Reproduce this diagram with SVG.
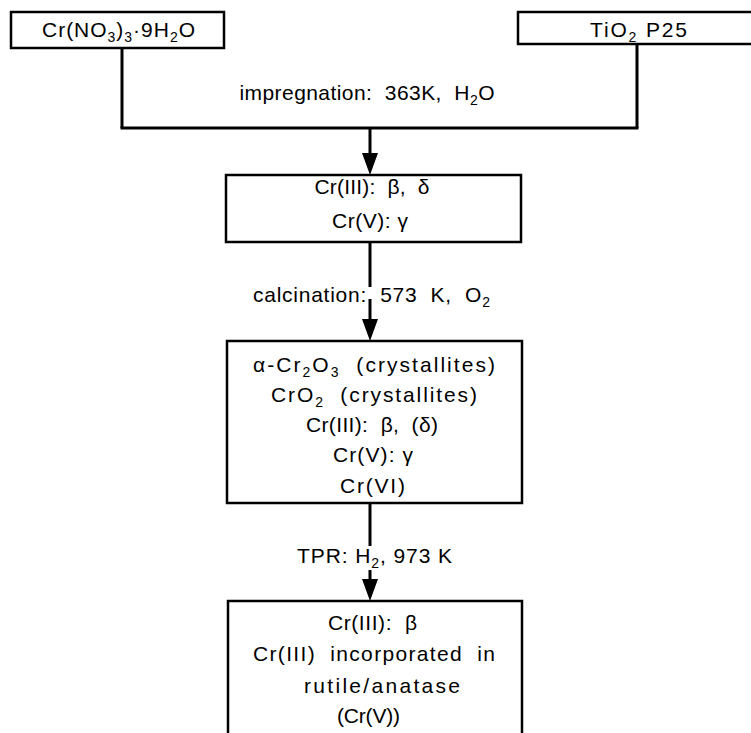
<svg xmlns="http://www.w3.org/2000/svg" width="751" height="733" viewBox="0 0 751 733">
<style>
.b{fill:#fff;stroke:#000;stroke-width:2.5}
.t{font-family:"Liberation Sans",Arial,Helvetica,sans-serif;font-size:21px;fill:#000;text-anchor:middle;white-space:pre}
.s{font-size:14px}
.c{stroke:#000;stroke-width:3;fill:none}
</style>
<defs>
<marker id="ah" markerUnits="userSpaceOnUse" viewBox="0 0 22 16" refX="14" refY="8" markerWidth="22" markerHeight="16" orient="auto">
<path d="M0,0 L22,8 L0,16 z" fill="#000"/>
</marker>
</defs>
<rect width="751" height="733" fill="#fff"/>
<g id="connectors">
<line class="c" x1="122" y1="48" x2="122" y2="128"/>
<line class="c" x1="637" y1="44" x2="637" y2="128"/>
<line class="c" x1="120.5" y1="128" x2="638.5" y2="128"/>
<line class="c" x1="370" y1="128" x2="370" y2="167" marker-end="url(#ah)"/>
<line class="c" x1="370" y1="242" x2="370" y2="287"/>
<line class="c" x1="370" y1="299" x2="370" y2="333" marker-end="url(#ah)"/>
<line class="c" x1="370" y1="503" x2="370" y2="546"/>
<line class="c" x1="370" y1="570" x2="370" y2="593" marker-end="url(#ah)"/>
</g>
<g id="label-impregnation">
<text class="t" x="367" y="100" textLength="255" lengthAdjust="spacing">impregnation:  363K,  H<tspan class="s" dy="5">2</tspan><tspan dy="-5">O</tspan></text>
</g>
<g id="label-calcination">
<text class="t" x="371.5" y="302" textLength="237" lengthAdjust="spacing">calcination:  573  K,  O<tspan class="s" dy="5">2</tspan></text>
</g>
<g id="label-tpr">
<text class="t" x="374.5" y="563" textLength="155" lengthAdjust="spacing">TPR: H<tspan class="s" dy="5">2</tspan><tspan dy="-5">, 973 K</tspan></text>
</g>
<g id="node-crnitrate">
<rect class="b" x="11" y="12" width="213" height="36"/>
<text class="t" x="118.5" y="37" textLength="153" lengthAdjust="spacing">Cr(NO<tspan class="s" dy="5">3</tspan><tspan dy="-5">)</tspan><tspan class="s" dy="5">3</tspan><tspan dy="-5">·9H</tspan><tspan class="s" dy="5">2</tspan><tspan dy="-5">O</tspan></text>
</g>
<g id="node-tio2">
<rect class="b" x="518" y="12" width="240" height="32"/>
<text class="t" x="638.5" y="37" textLength="97" lengthAdjust="spacing">TiO<tspan class="s" dy="5">2</tspan><tspan dy="-5"> P25</tspan></text>
</g>
<g id="node-impregnated">
<rect class="b" x="226" y="175" width="295" height="67"/>
<text class="t" x="372" y="194" textLength="115" lengthAdjust="spacing">Cr(III):  β,  δ</text>
<text class="t" x="370" y="228" textLength="76" lengthAdjust="spacing">Cr(V): γ</text>
</g>
<g id="node-calcined">
<rect class="b" x="227" y="341" width="295" height="162"/>
<text class="t" x="374" y="372" textLength="242" lengthAdjust="spacing">α-Cr<tspan class="s" dy="5">2</tspan><tspan dy="-5">O</tspan><tspan class="s" dy="5">3</tspan><tspan dy="-5">  (crystallites)</tspan></text>
<text class="t" x="374" y="402" textLength="206" lengthAdjust="spacing">CrO<tspan class="s" dy="5">2</tspan><tspan dy="-5">  (crystallites)</tspan></text>
<text class="t" x="372" y="432" textLength="132" lengthAdjust="spacing">Cr(III):  β,  (δ)</text>
<text class="t" x="373" y="462" textLength="80" lengthAdjust="spacing">Cr(V): γ</text>
<text class="t" x="372.5" y="493" textLength="65" lengthAdjust="spacing">Cr(VI)</text>
</g>
<g id="node-reduced">
<rect class="b" x="228" y="601" width="294" height="150"/>
<text class="t" x="372.5" y="630" textLength="89" lengthAdjust="spacing">Cr(III):  β</text>
<text class="t" x="374" y="661" textLength="242" lengthAdjust="spacing">Cr(III)  incorporated  in</text>
<text class="t" x="382" y="693" textLength="156" lengthAdjust="spacing">rutile/anatase</text>
<text class="t" x="368.5" y="723" textLength="63" lengthAdjust="spacing">(Cr(V))</text>
</g>
</svg>
